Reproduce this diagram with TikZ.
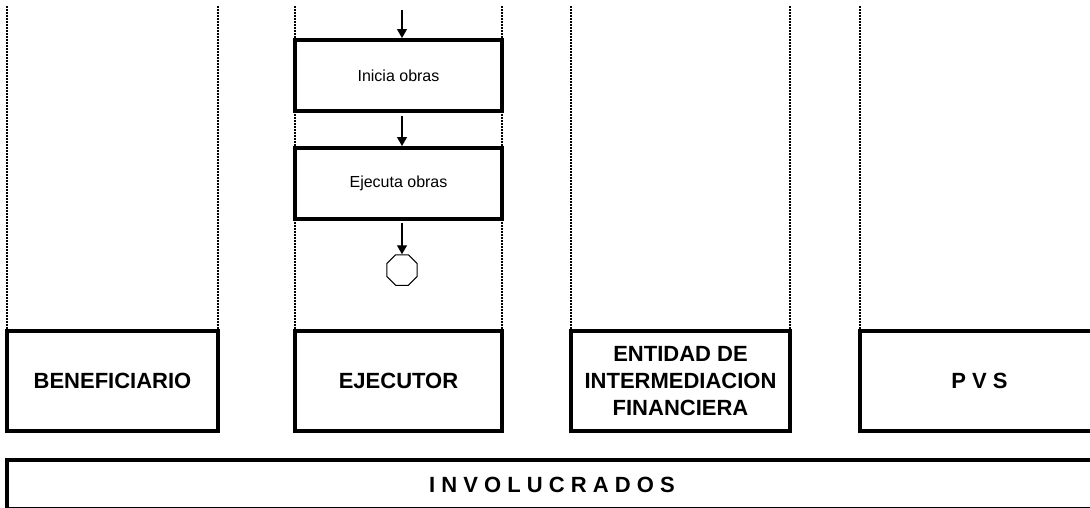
\documentclass[tikz,border=0pt]{standalone}
\usepackage{fontspec}
\setmainfont{Liberation Sans}
\usetikzlibrary{arrows.meta,shapes.geometric}
\tikzset{
  carril/.style={line width=1.4pt, dash pattern=on 2pt off 1pt},
  actor/.style={draw, line width=4pt, align=center, font=\fontsize{22}{27}\selectfont\bfseries},
  proceso/.style={draw, line width=4pt, minimum width=207pt, minimum height=71pt, font=\fontsize{16}{19}\selectfont},
  flecha/.style={line width=1.3pt, -{Triangle[length=9pt,width=10pt]}},
  fin/.style={draw, regular polygon, regular polygon sides=8, minimum size=33pt, inner sep=0pt, line width=1pt}
}
\begin{document}
\begin{tikzpicture}[x=1pt,y=-1pt]
  \useasboundingbox (0,0) rectangle (1090,507);
  \clip (0,0) rectangle (1090,507);
  % carriles
  \foreach \xc in {7,218,295,502,571,790,860}
    \draw[carril] (\xc,6) -- (\xc,331);
  % actores
  \node[actor, minimum width=211pt, minimum height=100.5pt] (benef) at (112.5,381) {BENEFICIARIO};
  \node[actor, minimum width=207pt, minimum height=100.5pt] (ejec) at (398.5,381) {EJECUTOR};
  \node[actor, minimum width=219pt, minimum height=100.5pt] (eif) at (680.5,381) {ENTIDAD DE\\INTERMEDIACION\\FINANCIERA};
  \node[actor, minimum width=239pt, minimum height=100.5pt] (pvs) at (979.5,381) {P V S};
  \node[actor, minimum width=1090pt, minimum height=48.5pt] (invol) at (552,484.5) {I N V O L U C R A D O S};
  % proceso del ejecutor
  \node[proceso] (inicia) at (398.5,75.5) {Inicia obras};
  \node[proceso] (ejecuta) at (398.5,183.5) {Ejecuta obras};
  \node[fin] (termina) at (402,270) {};
  \coordinate (entrada) at (402,10);
  \draw[flecha] (entrada) -- (entrada |- inicia.north);
  \draw[flecha, shorten <=3pt] ([xshift=3.5pt]inicia.south) -- ([xshift=3.5pt]ejecuta.north);
  \draw[flecha, shorten <=2pt] ([xshift=3.5pt]ejecuta.south) -- (termina.north);
\end{tikzpicture}
\end{document}
